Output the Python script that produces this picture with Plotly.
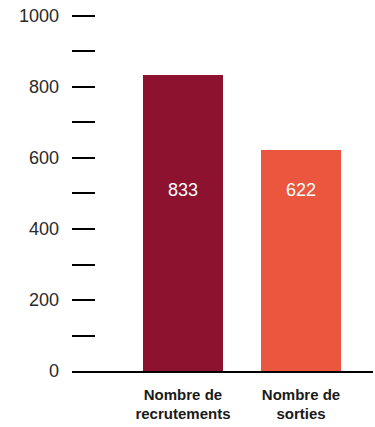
import plotly.graph_objects as go

categories = ["Nombre de<br>recrutements", "Nombre de<br>sorties"]
values = [833, 622]
colors = ["#8C1230", "#EA573E"]
tick_values = list(range(0, 1001, 100))
tick_labels = [str(v) if v % 200 == 0 else "" for v in tick_values]
label_y = 510

fig = go.Figure()
fig.add_trace(go.Bar(
    x=[0, 1], y=values, marker=dict(color=colors, line=dict(width=0)),
    width=0.678, hoverinfo="skip",
))
for i, v in enumerate(values):
    fig.add_annotation(x=i, y=label_y, text=str(v), showarrow=False,
                       font=dict(family="Liberation Sans, Arial, sans-serif", size=18, color="white"))

fig.update_layout(
    width=375, height=427,
    margin=dict(l=72, r=2, t=14, b=56),
    paper_bgcolor="white", plot_bgcolor="white",
    showlegend=False,
    bargap=0,
    xaxis=dict(
        range=[-0.94, 1.61], tickvals=[0, 1], ticktext=categories,
        showgrid=False, zeroline=False, showline=True, linecolor="black", linewidth=1.5,
        ticks="", ticklabelstandoff=9,
        tickfont=dict(family="Liberation Sans, Arial, sans-serif", size=15, color="#1a1a1a", weight="bold"),
        fixedrange=True,
    ),
    yaxis=dict(
        range=[0, 1005.6], tickvals=tick_values, ticktext=tick_labels,
        showgrid=False, zeroline=False, showline=False,
        ticks="inside", ticklen=23, tickwidth=1.5, tickcolor="black",
        ticklabelstandoff=12,
        tickfont=dict(family="Liberation Sans, Arial, sans-serif", size=18, color="#2a2a2a"),
        fixedrange=True,
    ),
)

fig.write_html("out.html")
